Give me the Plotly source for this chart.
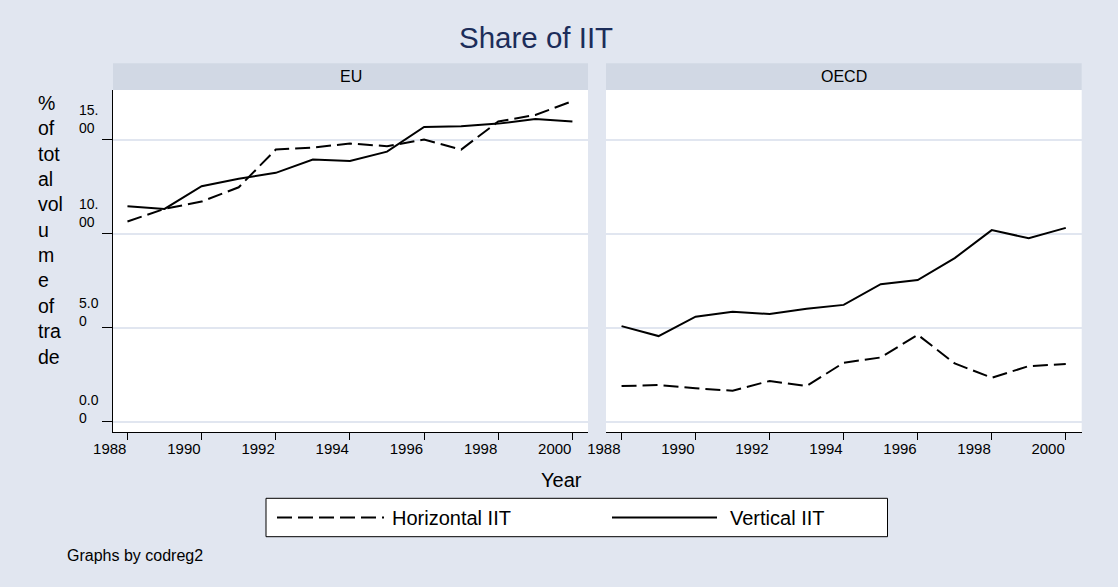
import plotly.graph_objects as go

years = list(range(1988, 2001))

eu_horizontal = [10.66, 11.33, 11.72, 12.48, 14.49, 14.60, 14.81, 14.67, 15.02, 14.49, 15.98, 16.33, 17.07]
eu_vertical = [11.47, 11.33, 12.54, 12.93, 13.25, 13.96, 13.88, 14.38, 15.69, 15.73, 15.87, 16.12, 15.98]
oecd_horizontal = [1.90, 1.95, 1.78, 1.65, 2.17, 1.90, 3.14, 3.42, 4.63, 3.10, 2.34, 2.96, 3.07]
oecd_vertical = [5.09, 4.56, 5.59, 5.85, 5.73, 6.01, 6.22, 7.32, 7.54, 8.71, 10.20, 9.77, 10.32]

panels = ["EU", "OECD"]
series_names = ["Horizontal IIT", "Vertical IIT"]
y_ticks = [0, 5, 10, 15]
y_tick_labels = ["0.0<br>0", "5.0<br>0", "10.<br>00", "15.<br>00"]
x_ticks = [1988, 1990, 1992, 1994, 1996, 1998, 2000]

W, H = 1118, 587
FONT = "Liberation Sans, Arial, sans-serif"
BG = "#e1e6f0"
STRIP = "#d1d8e4"
GRID = "#e1e6f0"
DASH = "15px,6px"


def px(v):
    return v / W


def py(v):
    return 1 - v / H


fig = go.Figure()

data = [(eu_horizontal, eu_vertical), (oecd_horizontal, oecd_vertical)]
for i, (hz, vt) in enumerate(data):
    xa = "x" if i == 0 else "x2"
    ya = "y" if i == 0 else "y2"
    fig.add_trace(go.Scatter(x=years, y=hz, mode="lines", name=series_names[0],
                             line=dict(color="black", width=2, dash=DASH),
                             xaxis=xa, yaxis=ya, showlegend=False))
    fig.add_trace(go.Scatter(x=years, y=vt, mode="lines", name=series_names[1],
                             line=dict(color="black", width=2),
                             xaxis=xa, yaxis=ya, showlegend=False))

yrange = [-0.548, 17.66]
ydom = [py(432), py(90)]

xcommon = dict(tickmode="array", tickvals=x_ticks, ticks="outside", ticklen=7,
               tickwidth=1, tickcolor="black", showline=True, linecolor="black",
               linewidth=1, showgrid=False, zeroline=False, automargin=False,
               ticklabelposition="outside left", ticklabelstandoff=3,
               tickfont=dict(family=FONT, size=15, color="black"))

fig.update_layout(
    width=W, height=H, autosize=False,
    margin=dict(l=0, r=0, t=0, b=0, pad=0, autoexpand=False),
    paper_bgcolor=BG, plot_bgcolor="white",
    font=dict(family=FONT, color="black"),
    xaxis=dict(domain=[px(113), px(588)], range=[1987.61, 2000.42], anchor="y", **xcommon),
    xaxis2=dict(domain=[px(606), px(1081.7)], range=[1987.58, 2000.43], anchor="y2", **xcommon),
    yaxis=dict(domain=ydom, range=yrange, tickmode="array", tickvals=y_ticks,
               showticklabels=False, ticks="outside", ticklen=10, tickcolor="black",
               showline=True, linecolor="black", linewidth=1, mirror=False, automargin=False,
               showgrid=True, gridcolor=GRID, gridwidth=2, zeroline=False, anchor="x"),
    yaxis2=dict(domain=ydom, range=yrange, tickmode="array", tickvals=y_ticks,
                showticklabels=False, ticks="", showline=False, automargin=False,
                showgrid=True, gridcolor=GRID, gridwidth=2, zeroline=False, anchor="x2"),
    showlegend=False,
)

shapes = []
annotations = []

# strips
strip_x = [(113, 588), (606, 1081.7)]
for (x0, x1), name in zip(strip_x, panels):
    shapes.append(dict(type="rect", xref="paper", yref="paper",
                       x0=px(x0), x1=px(x1), y0=py(90), y1=py(63.3),
                       fillcolor=STRIP, line=dict(width=0), layer="below"))
    annotations.append(dict(text=name, xref="paper", yref="paper",
                            x=px((x0 + x1) / 2), y=py(76.5), xanchor="center", yanchor="middle",
                            showarrow=False, font=dict(family=FONT, size=16, color="black")))

# y tick labels (wrapped as in the original)
yshifts = [13, 16, 21, 21]
for v, lab, sh in zip(y_ticks, y_tick_labels, yshifts):
    annotations.append(dict(text=lab, xref="paper", yref="y", x=px(77), y=v,
                            xanchor="left", yanchor="middle", yshift=sh, align="left",
                            showarrow=False, font=dict(family=FONT, size=14, color="black")))

# y axis title wrapped
ytitle = "%<br>of<br>tot<br>al<br>vol<br>u<br>m<br>e<br>of<br>tra<br>de"
annotations.append(dict(text=ytitle, xref="paper", yref="paper", x=px(36), y=py(230),
                        xanchor="left", yanchor="middle", align="left", showarrow=False,
                        font=dict(family=FONT, size=19.5, color="black")))

# title
annotations.append(dict(text="Share of IIT", xref="paper", yref="paper", x=px(536), y=py(37.3),
                        xanchor="center", yanchor="middle", showarrow=False,
                        font=dict(family=FONT, size=29.5, color="#1c2d5a")))

# x title
annotations.append(dict(text="Year", xref="paper", yref="paper", x=px(561), y=py(480),
                        xanchor="center", yanchor="middle", showarrow=False,
                        font=dict(family=FONT, size=20, color="black")))

# footer
annotations.append(dict(text="Graphs by codreg2", xref="paper", yref="paper", x=px(65), y=py(555),
                        xanchor="left", yanchor="middle", showarrow=False,
                        font=dict(family=FONT, size=16, color="black")))

# custom legend
shapes.append(dict(type="rect", xref="paper", yref="paper", x0=px(266), x1=px(887.5),
                   y0=py(536.7), y1=py(498.3), fillcolor="white",
                   line=dict(color="black", width=1)))
ly = py(517.5)
shapes.append(dict(type="line", xref="paper", yref="paper", x0=px(277), x1=px(384),
                   y0=ly, y1=ly, line=dict(color="black", width=2, dash=DASH)))
shapes.append(dict(type="line", xref="paper", yref="paper", x0=px(612), x1=px(717),
                   y0=ly, y1=ly, line=dict(color="black", width=2)))
annotations.append(dict(text=series_names[0], xref="paper", yref="paper", x=px(390), y=ly,
                        xanchor="left", yanchor="middle", showarrow=False,
                        font=dict(family=FONT, size=20, color="black")))
annotations.append(dict(text=series_names[1], xref="paper", yref="paper", x=px(728), y=ly,
                        xanchor="left", yanchor="middle", showarrow=False,
                        font=dict(family=FONT, size=20, color="black")))

fig.update_layout(shapes=shapes, annotations=annotations)
fig.write_html("out.html",
               config={"displayModeBar": False},
               post_script="document.body.style.margin='0px';"
                           "document.body.style.overflow='hidden';"
                           "document.body.style.background='" + BG + "';")
